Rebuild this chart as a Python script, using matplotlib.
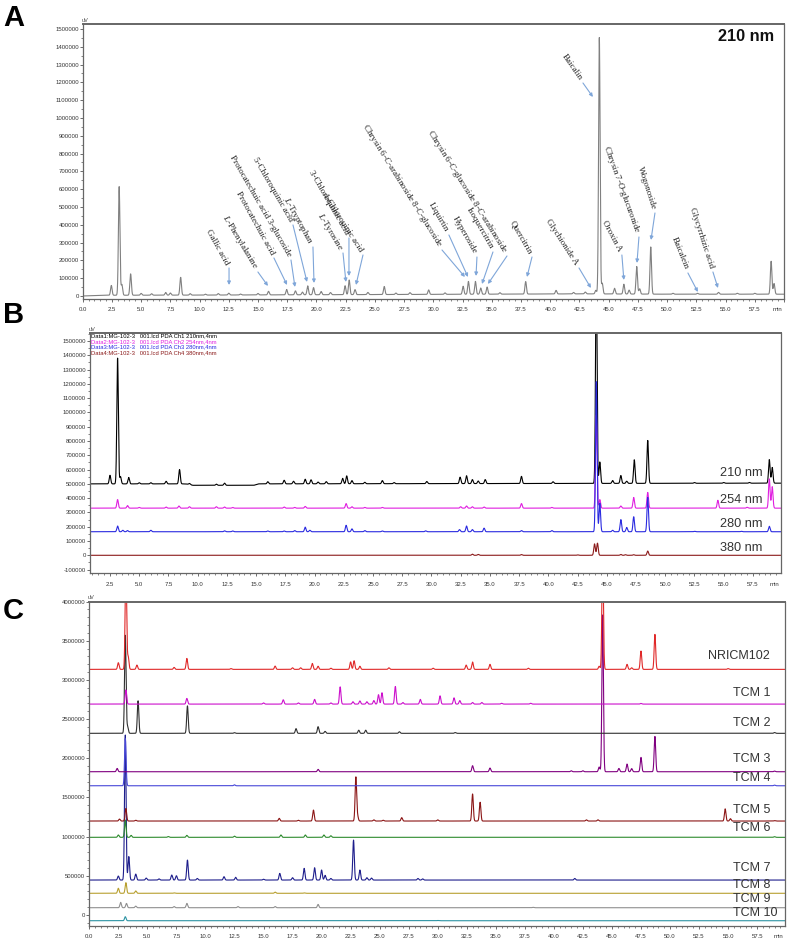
import numpy as np
import matplotlib
matplotlib.use('Agg')
import matplotlib.pyplot as plt
from matplotlib.ticker import MultipleLocator, FuncFormatter

plt.rcParams['font.family'] = ['Liberation Sans', 'DejaVu Sans']
plt.rcParams['mathtext.fontset'] = 'custom'
plt.rcParams['mathtext.rm'] = 'Liberation Serif'
plt.rcParams['mathtext.it'] = 'Liberation Serif:italic'

# ---------------- data: peaks as retention time (min) / height (uV) ----------------
# panel A, 210 nm
a_rt = [2.45, 3.12, 3.35, 4.1, 5.0, 5.9, 7.1, 7.5, 8.38, 9.2, 10.5, 11.6, 12.5, 13.5, 15.0,
        15.9, 17.45, 18.2, 18.8, 19.25, 19.75, 20.4, 21.2, 22.45, 22.8, 23.3, 24.4, 25.8,
        26.8, 28.0, 29.6, 31.0, 32.55, 33.0, 33.6, 34.05, 34.6, 35.7, 37.9, 40.5, 42.0, 43.0,
        43.9, 44.2, 44.45, 45.5, 46.3, 46.75, 47.4, 47.65, 48.6, 50.5, 52.6, 54.4, 56.0,
        57.5, 58.9, 59.15]
a_h = [55000, 610000, 60000, 120000, 10000, 8000, 15000, 12000, 100000, 8000, 5000, 8000,
       10000, 5000, 8000, 20000, 30000, 22000, 15000, 50000, 40000, 18000, 12000, 50000,
       82000, 28000, 12000, 45000, 8000, 10000, 25000, 8000, 45000, 72000, 72000, 35000,
       40000, 8000, 70000, 20000, 8000, 10000, 20000, 1440000, 60000, 32000, 55000, 22000,
       155000, 30000, 265000, 5000, 5000, 10000, 5000, 5000, 185000, 60000]
a_drift_t = [0, 2, 10, 30, 43, 50, 60]
a_drift_v = [0, 4000, 5000, 9000, 12000, 10000, 10000]

# panel B, four wavelengths
b210_rt = [2.5, 3.15, 3.4, 4.1, 5.0, 6.0, 7.3, 8.45, 9.3, 11.6, 12.3, 16.0, 17.4, 18.2,
           19.2, 19.7, 20.3, 21.0, 22.4, 22.75, 23.2, 24.3, 25.8, 26.8, 29.6, 32.45, 33.0,
           33.5, 34.0, 34.6, 37.7, 40.4, 44.1, 44.4, 45.5, 46.2, 46.7, 47.35, 48.5, 52.5,
           55.0, 57.2, 58.9, 59.15]
b210_h = [60000, 880000, 50000, 45000, 8000, 8000, 18000, 100000, 8000, 8000, 15000, 15000,
          25000, 18000, 32000, 28000, 12000, 15000, 38000, 55000, 22000, 10000, 22000, 8000,
          15000, 45000, 55000, 28000, 18000, 28000, 50000, 12000, 1500000, 150000, 20000,
          55000, 15000, 165000, 300000, 5000, 5000, 5000, 165000, 110000]
b254_rt = [3.15, 4.0, 5.0, 7.3, 8.4, 9.3, 11.6, 12.3, 13.0, 17.4, 18.3, 19.2, 22.7, 23.2,
           24.3, 25.8, 32.5, 33.0, 33.5, 34.5, 37.7, 40.3, 44.1, 44.4, 46.2, 47.3, 48.5,
           54.5, 57.0, 58.9, 59.15]
b254_h = [60000, 18000, 5000, 8000, 15000, 10000, 10000, 8000, 5000, 8000, 5000, 12000,
          32000, 10000, 5000, 5000, 10000, 15000, 10000, 8000, 32000, 5000, 650000, 60000,
          15000, 75000, 110000, 55000, 6000, 205000, 150000]
b280_rt = [3.15, 3.6, 4.0, 6.0, 12.3, 13.0, 16.0, 17.4, 18.3, 19.2, 19.6, 22.7, 23.2, 24.3,
           25.8, 29.5, 32.4, 33.0, 33.5, 34.5, 37.7, 40.3, 44.1, 44.4, 45.5, 46.2, 46.7,
           47.3, 48.5, 52.5, 56.5, 58.9]
b280_h = [40000, 10000, 8000, 10000, 6000, 5000, 5000, 5000, 8000, 32000, 10000, 45000,
          20000, 8000, 5000, 6000, 15000, 40000, 15000, 25000, 8000, 8000, 1050000, 200000,
          10000, 85000, 30000, 105000, 240000, 3000, 3000, 38000]
b380_rt = [33.5, 34.0, 37.7, 42.5, 43.95, 44.2, 46.2, 46.6, 47.3, 48.5]
b380_h = [8000, 6000, 5000, 3000, 80000, 85000, 6000, 4000, 4000, 30000]
b_offsets = [500000, 330000, 165000, 0]
b_waves = ['210 nm', '254 nm', '280 nm', '380 nm']
b_channels = ['Data1:MG-102-3   001.lcd PDA Ch1 210nm,4nm',
              'Data2:MG-102-3   001.lcd PDA Ch2 254nm,4nm',
              'Data3:MG-102-3   001.lcd PDA Ch3 280nm,4nm',
              'Data4:MG-102-3   001.lcd PDA Ch4 380nm,4nm']
b210_drift_t = [0, 9.0, 9.6, 14.8, 15.2, 60]
b210_drift_v = [0, 0, -10000, -10000, 0, 5000]

# panel C, samples
c_names = ['NRICM102', 'TCM 1', 'TCM 2', 'TCM 3', 'TCM 4', 'TCM 5', 'TCM 6', 'TCM 7',
           'TCM 8', 'TCM 9', 'TCM 10']
c_offsets = [3134000, 2691000, 2318000, 1828000, 1649000, 1199000, 991000, 446000,
             277000, 93000, -73000]
nricm_rt = [2.5, 3.15, 3.35, 4.1, 7.3, 8.4, 12.2, 16.0, 17.5, 18.2, 19.2, 19.7, 20.8, 22.5,
            22.8, 23.3, 25.8, 29.6, 32.45, 33.0, 34.5, 37.8, 43.9, 44.2, 46.3, 46.7, 47.5,
            48.7, 55.0]
nricm_h = [85000, 1300000, 160000, 55000, 25000, 140000, 10000, 42000, 20000, 20000, 76000,
           40000, 15000, 95000, 110000, 40000, 20000, 15000, 55000, 94000, 64000, 15000,
           40000, 1500000, 64000, 20000, 234000, 446000, 10000]
tcm1_rt = [3.15, 8.4, 15.0, 16.7, 18.0, 19.4, 20.8, 21.6, 22.7, 23.3, 23.9, 24.5, 24.9,
           25.2, 26.35, 27.0, 28.5, 30.2, 31.4, 31.9, 33.0, 33.8, 35.5, 38.0, 47.5]
tcm1_h = [180000, 72000, 15000, 55000, 15000, 60000, 15000, 220000, 30000, 40000, 30000,
          45000, 120000, 145000, 225000, 20000, 60000, 105000, 80000, 45000, 20000, 20000,
          10000, 10000, 8000]
tcm2_rt = [3.1, 3.3, 4.2, 8.45, 12.5, 17.8, 19.7, 20.3, 23.2, 23.8, 26.7, 31.5, 59.0]
tcm2_h = [1250000, 85000, 415000, 350000, 8000, 60000, 85000, 25000, 40000, 40000, 20000,
          10000, 10000]
tcm3_rt = [2.4, 19.7, 33.0, 34.5, 41.5, 42.5, 43.9, 44.2, 45.6, 46.3, 46.7, 47.5, 48.7, 59.0]
tcm3_h = [42000, 30000, 77000, 47000, 12000, 12000, 60000, 2000000, 42000, 98000, 40000,
          183000, 450000, 8000]
tcm4_rt = [3.1, 12.5, 59.0]
tcm4_h = [600000, 12000, 8000]
tcm5_rt = [2.6, 3.15, 4.0, 16.35, 18.0, 19.3, 22.95, 23.1, 24.5, 25.3, 26.9, 30.0, 33.0,
           33.65, 42.8, 43.8, 54.75, 55.2, 59.0]
tcm5_h = [25000, 160000, 10000, 34000, 10000, 140000, 560000, 60000, 15000, 10000, 43000,
          15000, 345000, 240000, 15000, 15000, 155000, 30000, 5000]
tcm6_rt = [2.5, 3.1, 3.6, 6.8, 8.4, 12.5, 16.5, 18.6, 20.2, 20.8, 59.0]
tcm6_h = [30000, 220000, 25000, 10000, 25000, 15000, 30000, 30000, 30000, 20000, 8000]
tcm7_rt = [2.5, 3.1, 3.4, 4.0, 4.9, 6.0, 7.1, 7.5, 8.45, 9.3, 11.6, 12.6, 15.0, 16.4, 17.5,
           18.5, 19.4, 20.0, 20.3, 20.8, 22.75, 23.3, 23.9, 24.3, 28.3, 28.7, 41.8]
tcm7_h = [51000, 1850000, 300000, 76000, 25000, 15000, 64000, 55000, 255000, 20000, 43000,
          35000, 10000, 85000, 30000, 149000, 157000, 128000, 60000, 20000, 510000, 128000,
          30000, 25000, 20000, 15000, 20000]
tcm8_rt = [2.5, 3.15, 4.0, 7.3, 16.0, 18.5]
tcm8_h = [64000, 136000, 30000, 5000, 15000, 5000]
tcm9_rt = [2.7, 3.2, 4.0, 7.3, 8.4, 12.8, 16.0, 19.7, 38.2]
tcm9_h = [68000, 55000, 20000, 15000, 55000, 15000, 15000, 42000, 5000]
tcm10_rt = [3.1, 30.0]
tcm10_h = [51000, 3000]
c_peaks = [(nricm_rt, nricm_h), (tcm1_rt, tcm1_h), (tcm2_rt, tcm2_h), (tcm3_rt, tcm3_h),
           (tcm4_rt, tcm4_h), (tcm5_rt, tcm5_h), (tcm6_rt, tcm6_h), (tcm7_rt, tcm7_h),
           (tcm8_rt, tcm8_h), (tcm9_rt, tcm9_h), (tcm10_rt, tcm10_h)]
c_label_y = [3304000, 2828000, 2453000, 1986000, 1743000, 1339000, 1106000, 603000,
             379000, 200000, 29000]

# compound labels in A: name, arrow tip (min, uV), arrow tail (min, uV), text angle
a_labels = [
    ('Gallic acid', (12.52, 61800), (12.52, 157300), -61),
    ('$\\mathit{L}$-Phenylalanine', (15.85, 56200), (14.99, 134800), -59),
    ('Protocatechuic acid', (17.48, 61800), (16.36, 213500), -61),
    ('Protocatechuic acid 3-glucoside', (18.16, 50600), (17.82, 202200), -60),
    ('5-Chloroquinic acid', (19.19, 78700), (17.99, 398900), -60),
    ('$\\mathit{L}$-Tryptophan', (19.79, 73000), (19.70, 275300), -61),
    ('$\\mathit{L}$-Tyrosine', (22.52, 78700), (22.27, 241600), -59),
    ('3-Chloroquinic acid', (22.78, 112400), (22.78, 325800), -60),
    ('4-Chlorouinic acid', (23.38, 61800), (23.98, 230300), -57),
    ('Chrysin 6-$\\mathit{C}$-arabinoside 8-$\\mathit{C}$-glucoside', (32.70, 106700), (30.74, 258400), -58),
    ('Liquirtin', (32.96, 106700), (31.33, 342700), -60),
    ('Hyperoside', (33.65, 112400), (33.73, 219100), -60),
    ('Isoquercitrin', (34.16, 67400), (35.10, 247200), -60),
    ('Chrysin 6-$\\mathit{C}$-glucoside 8-$\\mathit{C}$-arabinoside', (34.67, 67400), (36.30, 224700), -58),
    ('Quercitrin', (38.01, 106700), (38.44, 219100), -60),
    ('Glychionide A', (43.48, 44900), (42.46, 157300), -57),
    ('Baicalin', (43.65, 1118000), (42.80, 1196600), -55),
    ('Oroxin A', (46.30, 89900), (46.13, 230300), -62),
    ('Chrysin 7-$\\mathit{O}$-glucuronide', (47.42, 185400), (47.59, 331500), -70),
    ('Wogonoside', (48.62, 314600), (48.96, 466300), -72),
    ('Baicalein', (52.63, 22500), (51.78, 129200), -68),
    ('Glycyrrhizic acid', (54.35, 44900), (53.92, 134800), -72),
]


def trace(t, rts, hs, base, sigma=0.065):
    y = np.full_like(t, float(base))
    for r, h in zip(rts, hs):
        y += h * np.exp(-0.5 * ((t - r) / sigma) ** 2)
    return y


def style(ax, xlim, ylim, ystep, yminor, min_x):
    ax.set_xlim(*xlim)
    ax.set_ylim(*ylim)
    ax.xaxis.set_major_locator(MultipleLocator(2.5))
    ax.xaxis.set_minor_locator(MultipleLocator(0.5))
    ax.yaxis.set_major_locator(MultipleLocator(ystep))
    ax.yaxis.set_minor_locator(MultipleLocator(yminor))
    ax.xaxis.set_major_formatter(FuncFormatter(lambda v, p: f'{v:.1f}' if v < 58 else ''))
    ax.yaxis.set_major_formatter(FuncFormatter(lambda v, p: f'{v:.0f}'))
    ax.tick_params(axis='both', which='major', labelsize=4.3, colors='#555',
                   labelcolor='#333', width=0.6)
    ax.tick_params(axis='x', which='major', length=2.5, pad=3.5)
    ax.tick_params(axis='y', which='major', length=2.2, pad=0.6)
    ax.tick_params(which='minor', length=1.3, width=0.5, colors='#555')
    for s in ax.spines.values():
        s.set_color('#666')
        s.set_linewidth(0.9)
    ax.spines['top'].set_linewidth(1.4)
    ax.annotate('uV', xy=(0, 1), xycoords='axes fraction', xytext=(1.5, 1),
                textcoords='offset points', ha='center', va='bottom', fontsize=4, color='#444')
    ax.annotate('min', xy=(min_x, 0), xycoords=('data', 'axes fraction'), xytext=(0, -6),
                textcoords='offset points', ha='center', va='top', fontsize=4.3, color='#333')


fig = plt.figure(figsize=(7.9, 9.42), dpi=100)
t = np.linspace(0, 60, 12001)

# ---------------- A ----------------
axA = fig.add_axes([82.7 / 790, 1 - 299 / 942, (784 - 82.7) / 790, 275 / 942])
yA = trace(t, a_rt, a_h, 0) + np.interp(t, a_drift_t, a_drift_v)
axA.plot(t, yA, color='#808080', lw=0.8)
style(axA, (0, 60), (-17000, 1528000), 100000, 50000, 59.48)
axA.text(0.986, 0.954, '210 nm', transform=axA.transAxes, ha='right', va='center',
         fontsize=11.7, fontweight='bold', color='#111')
for name, tip, tail, rot in a_labels:
    axA.annotate('', xy=tip, xytext=tail,
                 arrowprops=dict(arrowstyle='-|>', color='#7fa6d9', lw=0.8,
                                 mutation_scale=5, shrinkA=0, shrinkB=0))
    d = np.deg2rad(rot)
    axA.annotate(name, xy=tail, xytext=(-3 * np.cos(d), -3 * np.sin(d)),
                 textcoords='offset points', rotation=rot, rotation_mode='anchor',
                 ha='right', va='center', fontsize=6.5, color='#222',
                 fontfamily=['Liberation Serif', 'DejaVu Serif'])

# ---------------- B ----------------
axB = fig.add_axes([90 / 790, 1 - 573.3 / 942, (781 - 90) / 790, 240 / 942])
b_colors = ['#000000', '#e01ee0', '#2a2ae0', '#8b1a1a']
b_peaks = [(b210_rt, b210_h), (b254_rt, b254_h), (b280_rt, b280_h), (b380_rt, b380_h)]
for i, ((rts, hs), off, col) in enumerate(zip(b_peaks, b_offsets, b_colors)):
    y = trace(t, rts, hs, off)
    if i == 0:
        y = y + np.interp(t, b210_drift_t, b210_drift_v)
    axB.plot(t, y, color=col, lw=0.8)
style(axB, (0.79, 59.9), (-126000, 1554000), 100000, 50000, 59.38)
for i, (lab, col) in enumerate(zip(b_channels, b_colors)):
    axB.text(0.002, 0.991 - i * 0.0245, lab, transform=axB.transAxes, ha='left',
             va='center', fontsize=4.2, color=col)
b_label_y = [576000, 387000, 219000, 49000]
for lab, yy in zip(b_waves, b_label_y):
    axB.text(58.34, yy, lab, ha='right', va='center', fontsize=9.2, color='#333')

# ---------------- C ----------------
axC = fig.add_axes([89.3 / 790, 1 - 925.7 / 942, (785 - 89.3) / 790, 324.2 / 942])
c_colors = ['#e02828', '#cc10cc', '#303030', '#800080', '#4848d8', '#8b1515', '#2e8b2e',
            '#1e1e8c', '#b8a030', '#909090', '#2c93a3']
for i in range(len(c_names) - 1, -1, -1):
    rts, hs = c_peaks[i]
    axC.plot(t, trace(t, rts, hs, c_offsets[i]), color=c_colors[i], lw=0.8)
style(axC, (0, 59.9), (-136500, 4000000), 500000, 100000, 59.32)
for name, yy in zip(c_names, c_label_y):
    x0 = 53.3 if name == 'NRICM102' else 55.44
    axC.text(x0, yy, name, ha='left', va='center', fontsize=9, color='#333')

# panel letters
for letter, ytop in [('A', 4), ('B', 301), ('C', 597)]:
    fig.text(3 / 790, 1 - ytop / 942, letter, ha='left', va='top', fontsize=21,
             fontweight='bold', color='black')

fig.savefig('out.png', dpi=100)
